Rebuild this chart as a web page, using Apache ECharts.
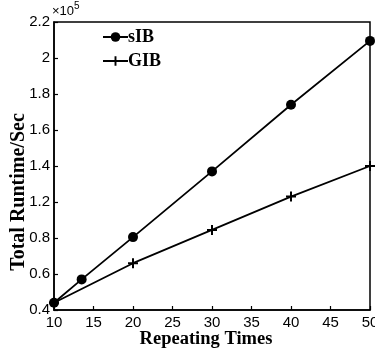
<!DOCTYPE html>
<html>
<head>
<meta charset="utf-8">
<script src="https://cdn.jsdelivr.net/npm/echarts@6/dist/echarts.min.js"></script>
<style>
  html, body { margin: 0; padding: 0; background: #fff; }
  #chart { width: 375px; height: 349px; }
</style>
</head>
<body>
<div id="chart"></div>
<script>
// Repeating times on the x axis
const sibX = [10, 13.5, 20, 30, 40, 50];
const gibX = [10, 20, 30, 40, 50];
// Total runtime in units of 1e5 seconds
const sibRuntime = [0.64, 0.77, 1.005, 1.37, 1.74, 2.095];
const gibRuntime = [0.64, 0.86, 1.045, 1.23, 1.40];
// Printed tick labels of the runtime axis, bottom to top
const yTickLabels = ['0.4', '0.6', '0.8', '1.2', '1.4', '1.6', '1.8', '2', '2.2'];
const xTickLabels = ['10', '15', '20', '25', '30', '35', '40', '45', '50'];

const Y_MIN = 0.6, Y_STEP = 0.2;
const X_MIN = 10, X_STEP = 5;

const serif = '"Liberation Serif", "DejaVu Serif", serif';
const sans = '"Liberation Sans", Arial, sans-serif';
const plusPath = 'path://M4,0h2v4h4v2h-4v4h-2v-4h-4v-2h4z';

const chart = echarts.init(document.getElementById('chart'), null, { renderer: 'canvas' });

chart.setOption({
  animation: false,
  backgroundColor: '#fff',
  grid: {
    left: 54, right: 5, top: 22, bottom: 39,
    outerBoundsMode: 'none', containLabel: false,
    show: true, borderColor: '#000', borderWidth: 1.5, backgroundColor: 'transparent'
  },
  legend: {
    orient: 'vertical',
    left: 97, top: 23,
    itemWidth: 25, itemHeight: 12, itemGap: 6,
    textStyle: { fontFamily: serif, fontWeight: 'bold', fontSize: 18, color: '#000', padding: [0, 0, 0, -5] },
    data: ['sIB', 'GIB']
  },
  graphic: [
    {
      type: 'text', left: 52, top: 1,
      style: {
        text: '{a|×10}{b|5}',
        rich: {
          a: { fontFamily: sans, fontSize: 13, fill: '#000', verticalAlign: 'bottom', lineHeight: 17 },
          b: { fontFamily: sans, fontSize: 10, fill: '#000', verticalAlign: 'top', lineHeight: 17 }
        }
      }
    },
    {
      // y axis title
      type: 'text', x: 19, y: 192, rotation: Math.PI / 2,
      style: {
        text: 'Total Runtime/Sec', fontFamily: serif, fontWeight: 'bold', fontSize: 20,
        fill: '#000', align: 'center', verticalAlign: 'middle'
      }
    },
    {
      // x axis title
      type: 'text', x: 206, y: 339,
      style: {
        text: 'Repeating Times', fontFamily: serif, fontWeight: 'bold', fontSize: 18.5,
        fill: '#000', align: 'center', verticalAlign: 'middle'
      }
    }
  ],
  xAxis: {
    type: 'value', min: X_MIN, max: 50, interval: X_STEP,
    axisLine: { lineStyle: { color: '#000', width: 1.5 } },
    axisTick: { inside: true, length: 4, lineStyle: { color: '#000', width: 1.2 } },
    axisLabel: {
      fontFamily: sans, fontSize: 15, color: '#000', margin: 5,
      formatter: v => xTickLabels[Math.round((v - X_MIN) / X_STEP)] || ''
    },
    splitLine: { show: false }
  },
  yAxis: {
    type: 'value', min: Y_MIN, max: 2.2, interval: Y_STEP,
    axisLine: { lineStyle: { color: '#000', width: 1.5 } },
    axisTick: { inside: true, length: 4, lineStyle: { color: '#000', width: 1.2 } },
    axisLabel: {
      fontFamily: sans, fontSize: 15, color: '#000', margin: 4,
      formatter: v => yTickLabels[Math.round((v - Y_MIN) / Y_STEP)] || ''
    },
    splitLine: { show: false }
  },
  series: [
    {
      name: 'sIB', type: 'line',
      data: sibX.map((x, i) => [x, sibRuntime[i]]),
      symbol: 'circle', symbolSize: 10, showAllSymbol: true,
      lineStyle: { color: '#000', width: 1.8 },
      itemStyle: { color: '#000', borderWidth: 0 },
      z: 3
    },
    {
      name: 'GIB', type: 'line',
      data: gibX.map((x, i) => [x, gibRuntime[i]]),
      symbol: plusPath, symbolSize: 10, showAllSymbol: true,
      lineStyle: { color: '#000', width: 1.8 },
      itemStyle: { color: '#000', borderWidth: 0 },
      z: 2
    }
  ]
});
</script>
</body>
</html>
